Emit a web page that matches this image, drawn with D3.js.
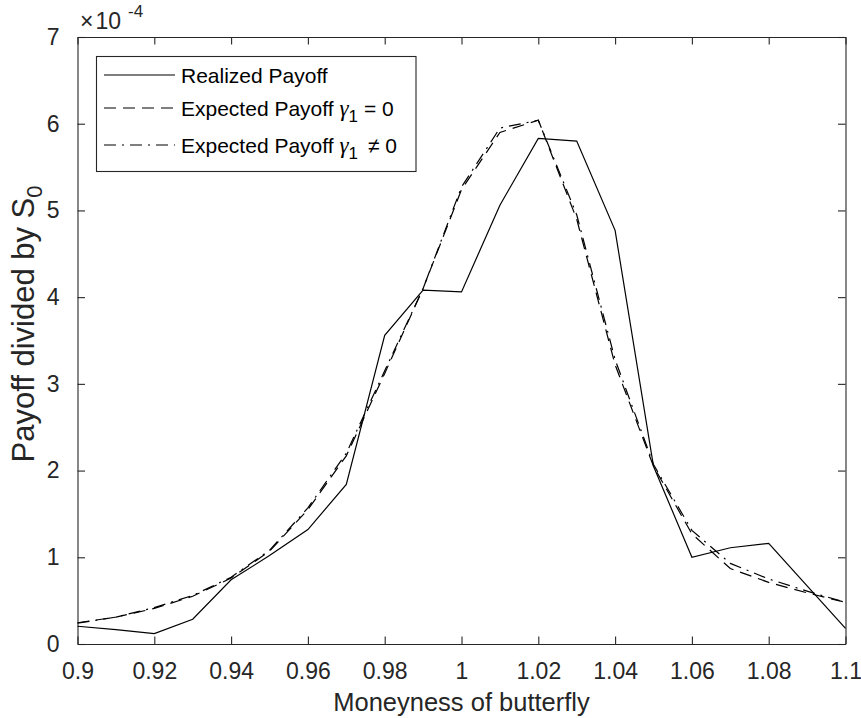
<!DOCTYPE html>
<html>
<head>
<meta charset="utf-8">
<script src="https://cdn.jsdelivr.net/npm/d3@7"></script>
<style>
  body { margin: 0; background: #fff; }
  svg { font-family: "Liberation Sans", Arial, Helvetica, sans-serif; }
</style>
</head>
<body>
<svg id="chart" width="861" height="718"></svg>
<script>
// moneyness of butterfly
var moneyness = [0.90, 0.91, 0.92, 0.93, 0.94, 0.95, 0.96, 0.97, 0.98, 0.99, 1.00,
                 1.01, 1.02, 1.03, 1.04, 1.05, 1.06, 1.07, 1.08, 1.09, 1.10];
// payoff / S0, in units of 1e-4
var realized = [0.205, 0.165, 0.12, 0.285, 0.74, 1.02, 1.32, 1.84, 3.56, 4.08, 4.06,
                5.06, 5.83, 5.80, 4.77, 2.05, 1.00, 1.11, 1.16, 0.67, 0.18];
var expectedZero = [0.245, 0.31, 0.41, 0.55, 0.76, 1.07, 1.55, 2.17, 3.12, 4.10, 5.24,
                    5.90, 6.04, 4.90, 3.22, 2.05, 1.27, 0.87, 0.71, 0.59, 0.48];
var expectedNonZero = [0.24, 0.31, 0.42, 0.56, 0.77, 1.08, 1.57, 2.20, 3.15, 4.10, 5.27,
                       5.95, 6.04, 4.95, 3.28, 2.07, 1.31, 0.93, 0.75, 0.61, 0.48];

var xTicks = [0.9, 0.92, 0.94, 0.96, 0.98, 1, 1.02, 1.04, 1.06, 1.08, 1.1];
var xTickLabels = ["0.9", "0.92", "0.94", "0.96", "0.98", "1", "1.02", "1.04", "1.06", "1.08", "1.1"];
var yTicks = [0, 1, 2, 3, 4, 5, 6, 7];

var series = [
    { name: "Realized Payoff", values: realized, dash: null, gamma: null },
    { name: "Expected Payoff ", values: expectedZero, dash: "12,7", gamma: "=" },
    { name: "Expected Payoff ", values: expectedNonZero, dash: "12,6,2,6", gamma: "\u2260" }
];

var svg = d3.select("#chart"),
    plotL = 77.5, plotR = 845.5, plotT = 37, plotB = 644,
    axisColor = "#262626";

var x = d3.scaleLinear().domain([0.9, 1.1]).range([plotL, plotR]);
var y = d3.scaleLinear().domain([0, 7]).range([plotB, plotT]);

// axes box with inward ticks on all four sides
var xAxis = svg.append("g")
    .attr("transform", "translate(0," + plotB + ")")
    .call(d3.axisBottom(x).tickValues(xTicks).tickSizeInner(-7.5).tickSizeOuter(0)
        .tickFormat(function (d, i) { return xTickLabels[i]; }).tickPadding(19));
var xTop = svg.append("g")
    .attr("transform", "translate(0," + plotT + ")")
    .call(d3.axisTop(x).tickValues(xTicks).tickSizeInner(-7.5).tickSizeOuter(0).tickFormat(""));
var yAxis = svg.append("g")
    .attr("transform", "translate(" + plotL + ",0)")
    .call(d3.axisLeft(y).tickValues(yTicks).tickSizeInner(-7.5).tickSizeOuter(0)
        .tickFormat(d3.format("d")).tickPadding(18));
var yRight = svg.append("g")
    .attr("transform", "translate(" + plotR + ",0)")
    .call(d3.axisRight(y).tickValues(yTicks).tickSizeInner(-7.5).tickSizeOuter(0).tickFormat(""));

[xAxis, xTop, yAxis, yRight].forEach(function (g) {
    g.selectAll("path.domain").attr("stroke", axisColor).attr("stroke-width", 1.1);
    g.selectAll(".tick line").attr("stroke", axisColor).attr("stroke-width", 1.1);
    g.selectAll("text").attr("fill", axisColor).style("font-size", "23px")
        .style("font-family", "'Liberation Sans', Arial, sans-serif");
});

// the lines
var line = d3.line()
    .x(function (d, i) { return x(moneyness[i]); })
    .y(function (d) { return y(d); });

svg.append("g").selectAll("path")
    .data(series)
    .enter().append("path")
    .attr("d", function (d) { return line(d.values); })
    .attr("fill", "none")
    .attr("stroke", "#000")
    .attr("stroke-width", 1.2)
    .attr("stroke-dasharray", function (d) { return d.dash; });

// exponent label
var expo = svg.append("text")
    .attr("x", 80)
    .attr("y", 29)
    .attr("fill", axisColor)
    .style("font-size", "23px");
expo.append("tspan").text("\u00d7");
expo.append("tspan").attr("dx", 2).text("10");
expo.append("tspan").attr("dx", 7).attr("dy", -12).style("font-size", "17px").text("-4");

// axis labels
svg.append("text")
    .attr("x", (plotL + plotR) / 2)
    .attr("y", 711)
    .attr("text-anchor", "middle")
    .attr("fill", axisColor)
    .style("font-size", "25.5px")
    .text("Moneyness of butterfly");

var ylab = svg.append("text")
    .attr("transform", "translate(34,324) rotate(-90)")
    .attr("text-anchor", "middle")
    .attr("fill", axisColor)
    .style("font-size", "31px");
ylab.append("tspan").text("Payoff divided by S");
ylab.append("tspan").attr("dy", 8).style("font-size", "22px").text("0");

// legend
var legend = svg.append("g");
legend.append("rect")
    .attr("x", 96.5).attr("y", 56.5)
    .attr("width", 319.5).attr("height", 115)
    .attr("fill", "#fff")
    .attr("stroke", axisColor)
    .attr("stroke-width", 1.1);

var rowY = [75, 108, 145];
var item = legend.selectAll(".legend")
    .data(series)
    .enter().append("g")
    .attr("class", "legend")
    .attr("transform", function (d, i) { return "translate(0," + rowY[i] + ")"; });

item.append("line")
    .attr("x1", 104).attr("x2", 175)
    .attr("y1", 0).attr("y2", 0)
    .attr("stroke", "#000")
    .attr("stroke-width", 1.2)
    .attr("stroke-dasharray", function (d) { return d.dash; });

var label = item.append("text")
    .attr("x", 181)
    .attr("y", 7.5)
    .attr("fill", "#000")
    .style("font-size", "21px");
label.append("tspan").text(function (d) { return d.name; });
label.filter(function (d) { return d.gamma; }).each(function (d) {
    var t = d3.select(this);
    t.append("tspan")
        .style("font-family", "'Liberation Serif', 'DejaVu Serif', serif")
        .style("font-style", "italic")
        .style("font-size", "23px")
        .text("\u03b3");
    t.append("tspan").attr("dy", 6).style("font-size", "17px").text("1");
    t.append("tspan").attr("dy", -6).attr("dx", d.gamma === "=" ? 6 : 10).text(d.gamma + " 0");
});
</script>
</body>
</html>
